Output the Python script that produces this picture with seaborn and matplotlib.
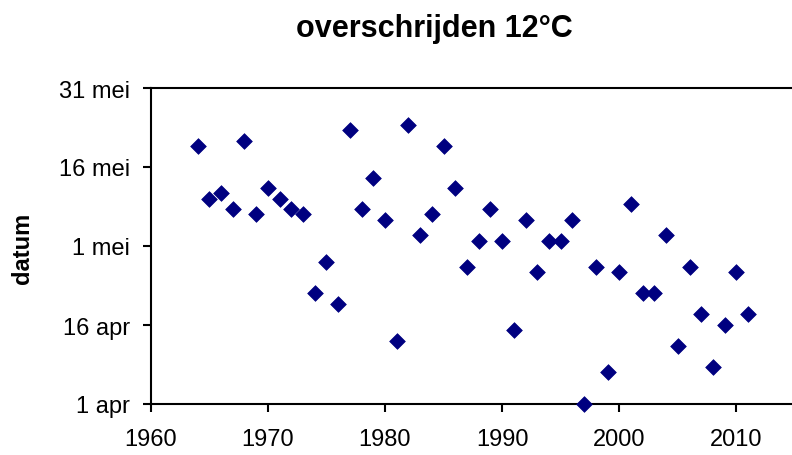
from matplotlib import pyplot as plt
import pandas as pd
import seaborn as sns

# jaar waarin de 12 graden voor het eerst overschreden werd, dag na 1 april
years = list(range(1964, 2012))
days = [49, 39, 40, 37, 50, 36, 41, 39, 37, 36,
        21, 27, 19, 52, 37, 43, 35,
        12, 53, 32, 36, 49, 41, 26, 31, 37, 31,
        14, 35, 25, 31, 31, 35, 0, 26, 6, 25,
        38, 21, 21, 32, 11, 26, 17, 7, 15, 25, 17]
ytick_days = [0, 15, 30, 45, 60]
ytick_labels = ['1 apr', '16 apr', '1 mei', '16 mei', '31 mei']
xtick_years = [1960, 1970, 1980, 1990, 2000, 2010]

df = pd.DataFrame({'jaar': years, 'dag': days})

sns.set_style("ticks")
plt.rcParams['font.family'] = ['Liberation Sans', 'DejaVu Sans']
plt.rcParams['text.color'] = 'black'

f = plt.figure(figsize=(7.92, 4.56), dpi=100)
ax = f.add_axes([150.7 / 792, 51 / 456, (795 - 150.7) / 792, 316 / 456])

sns.scatterplot(data=df, x='jaar', y='dag', marker='D', s=64,
                color='#000080', edgecolor='#000080', linewidth=0.5,
                clip_on=False, zorder=3, ax=ax)

ax.set_xlim(1960, 2015)
ax.set_ylim(0, 60)
ax.set_xticks(xtick_years)
ax.set_yticks(ytick_days)
ax.set_yticklabels(ytick_labels)
ax.set_xlabel('')
ax.set_ylabel('')

for side in ['left', 'bottom', 'top']:
    ax.spines[side].set_linewidth(1.5)
    ax.spines[side].set_color('black')
ax.spines['right'].set_visible(False)
ax.tick_params(axis='both', direction='out', length=6, width=1.5,
               labelsize=17, colors='black')
ax.tick_params(axis='x', pad=11)
ax.tick_params(axis='y', pad=9)

f.text(434 / 792, 1 - 37 / 456, 'overschrijden 12°C', ha='center',
       va='baseline', fontsize=22, fontweight='bold', color='black')
f.text(22 / 792, 1 - 248 / 456, 'datum', rotation=90, ha='center',
       va='center', fontsize=17, fontweight='bold', color='black')

f.savefig('out.png', dpi=100)
